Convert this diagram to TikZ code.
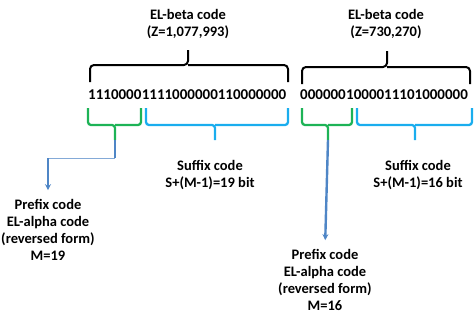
\documentclass[tikz,border=0pt]{standalone}
\usepackage{fontspec}
\setmainfont{Carlito}
\usetikzlibrary{arrows.meta}
\definecolor{prefixgreen}{HTML}{1DB356}
\definecolor{suffixblue}{HTML}{1AADEE}
\definecolor{arrowblue}{HTML}{4F86C6}
\tikzset{
  txt/.style={font=\bfseries\fontsize{14.5}{17}\selectfont, align=center, inner sep=0pt},
  bits/.style={font=\bfseries\fontsize{15}{18}\selectfont, inner sep=0pt, anchor=west},
  topbrace/.style={draw=black, line width=2pt, rounded corners=4pt},
  prebrace/.style={draw=prefixgreen, line width=2.3pt, rounded corners=3pt},
  sufbrace/.style={draw=suffixblue, line width=2.3pt, rounded corners=3pt},
  link/.style={draw=arrowblue, line width=2.4pt},
  thinlink/.style={draw=arrowblue!70, line width=1pt},
  tip/.style={-{Stealth[length=6pt,width=6pt]}},
}
\begin{document}
\begin{tikzpicture}[x=1pt,y=-1pt]
\useasboundingbox (0,0) rectangle (475,324);

% titles of the two codewords
\node[txt] (betaL) at (188,24) {EL-beta code\\(Z=1,077,993)};
\node[txt] (betaR) at (386,24) {EL-beta code\\(Z=730,270)};

% the bit strings, prefix and suffix parts
\node[bits] (preL) at (88,95) {1110000};
\node[bits] (sufL) at (preL.east) {1111000000110000000};
\node[bits] (preR) at (300,95) {000000};
\node[bits] (sufR) at (preR.east) {1000011101000000};

% braces over the whole codewords
\draw[topbrace] (90,82) |- (188,65) -- (188,50);
\draw[topbrace] (288,82) |- (188,65);
\draw[topbrace] (302,84) |- (387,67) -- (387,51);
\draw[topbrace] (470,84) |- (387,67);

% brackets under prefix and suffix
\coordinate (tipPL) at (115,140);
\coordinate (tipSL) at (215,140);
\coordinate (tipPR) at (328,140);
\coordinate (tipSR) at (415,140);
\draw[prebrace] (88,108) |- (115,125) -- (tipPL);
\draw[prebrace] (141,108) |- (115,125);
\draw[sufbrace] (146,108) |- (215,125) -- (tipSL);
\draw[sufbrace] (288,108) |- (215,125);
\draw[prebrace] (302,108) |- (328,125) -- (tipPR);
\draw[prebrace] (352,108) |- (328,125);
\draw[sufbrace] (357,108) |- (415,125) -- (tipSR);
\draw[sufbrace] (472,108) |- (415,125);

% labels
\node[txt] (sufTxtL) at (210,175) {Suffix code\\S+(M-1)=19 bit};
\node[txt] (sufTxtR) at (418,175) {Suffix code\\S+(M-1)=16 bit};
\node[txt] (preTxtL) at (48,230) {Prefix code\\EL-alpha code\\(reversed form)\\M=19};
\node[txt] (preTxtR) at (325,280) {Prefix code\\EL-alpha code\\(reversed form)\\M=16};

% arrows to the prefix descriptions
\coordinate (bendL) at (115,158);
\coordinate (bendL2) at (48,158);
\draw[link] (tipPL) -- (bendL);
\draw[thinlink] (bendL) -- (bendL2);
\draw[link, tip, shorten >=9pt] (bendL2) -- (preTxtL.north);
\draw[link, tip, shorten >=9pt] (tipPR) -- (preTxtR.north);
\end{tikzpicture}
\end{document}
